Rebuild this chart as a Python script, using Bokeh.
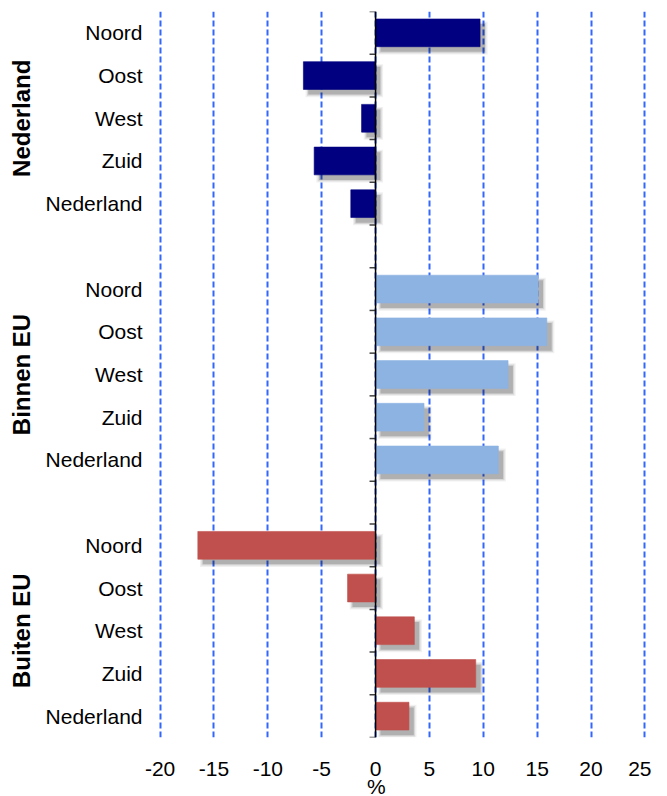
from bokeh.plotting import figure
from bokeh.models import (FactorRange, Range1d, FixedTicker, ColumnDataSource,
                          Span)
from bokeh.transform import dodge
from bokeh.embed import file_html
from bokeh.resources import INLINE

# ---------------- data ----------------
groups = ["Nederland", "Binnen EU", "Buiten EU"]
regions = ["Noord", "Oost", "West", "Zuid", "Nederland"]
nederland_values = [9.7, -6.7, -1.3, -5.7, -2.3]
binnen_eu_values = [15.1, 15.9, 12.3, 4.5, 11.4]
buiten_eu_values = [-16.5, -2.6, 3.6, 9.3, 3.1]
group_values = [nederland_values, binnen_eu_values, buiten_eu_values]
group_colors = ["#000080", "#8DB3E2", "#C0504D"]
x_ticks = [-20, -15, -10, -5, 0, 5, 10, 15, 20, 25]
x_tick_labels = ["-20", "-15", "-10", "-5", "0", "5", "10", "15", "20", "25"]
x_label = "%"

FONT = "Liberation Sans"
BAR_H = 0.65
EDGE_PAD = 0.15  # keeps the outermost grid lines inside the frame

# bottom-to-top factor order so that the first group/region sits on top
factors = [(g, r) for g in reversed(groups) for r in reversed(regions)]
y_range = FactorRange(factors=factors, group_padding=1.0, factor_padding=0.0,
                      range_padding=0.0)

p = figure(width=651, height=800,
           x_range=Range1d(x_ticks[0] - EDGE_PAD, x_ticks[-1] + EDGE_PAD),
           y_range=y_range, output_backend="svg", toolbar_location=None,
           min_border_left=158, min_border_right=5, min_border_top=11,
           min_border_bottom=0)
p.outline_line_color = None
p.background_fill_color = "white"
p.border_fill_color = "white"

# ---------------- bars with soft shadow ----------------
SH_DX = 0.45   # shadow shift in x (data units)
SH_DY = 0.12   # shadow shift in y (category units)
for g, vals, col in zip(groups, group_values, group_colors):
    src = ColumnDataSource(dict(
        y=[(g, r) for r in regions],
        left=[min(v, 0) for v in vals],
        right=[max(v, 0) for v in vals],
        sl1=[min(v, 0) + SH_DX - 0.25 for v in vals],
        sr1=[max(v, 0) + SH_DX + 0.25 for v in vals],
        sl2=[min(v, 0) + SH_DX - 0.12 for v in vals],
        sr2=[max(v, 0) + SH_DX + 0.12 for v in vals],
        sl3=[min(v, 0) + SH_DX for v in vals],
        sr3=[max(v, 0) + SH_DX for v in vals],
    ))
    ysh = dodge("y", -SH_DY, range=p.y_range)
    p.hbar(y=ysh, left="sl1", right="sr1", height=BAR_H + 0.12, source=src,
           fill_color="#000000", fill_alpha=0.06, line_color=None)
    p.hbar(y=ysh, left="sl2", right="sr2", height=BAR_H + 0.06, source=src,
           fill_color="#000000", fill_alpha=0.10, line_color=None)
    p.hbar(y=ysh, left="sl3", right="sr3", height=BAR_H, source=src,
           fill_color="#000000", fill_alpha=0.18, line_color=None)
    p.hbar(y="y", left="left", right="right", height=BAR_H, source=src,
           fill_color=col, line_color=col, line_alpha=0.6, line_width=1)

# ---------------- grid ----------------
p.xgrid.ticker = FixedTicker(ticks=x_ticks)
p.xgrid.grid_line_color = "#3366FF"
p.xgrid.grid_line_width = 2
p.xgrid.grid_line_dash = "6 3"
p.ygrid.grid_line_color = None

# ---------------- zero line with slot-boundary ticks ----------------
p.add_layout(Span(location=0, dimension="height", line_color="black",
                  line_width=1.5))
p.segment(x0=0, x1=-0.56,
          y0=dodge("y", 0.5, range=p.y_range), y1=dodge("y", 0.5, range=p.y_range),
          source=ColumnDataSource(dict(y=[(g, r) for g in groups for r in regions])),
          line_color="#404040", line_width=1.5)
p.segment(x0=0, x1=-0.56,
          y0=dodge("y", -0.5, range=p.y_range), y1=dodge("y", -0.5, range=p.y_range),
          source=ColumnDataSource(dict(y=[(g, regions[-1]) for g in groups])),
          line_color="#404040", line_width=1.5)

# ---------------- x axis ----------------
xa = p.xaxis[0]
xa.ticker = FixedTicker(ticks=x_ticks)
xa.major_label_overrides = {t: s for t, s in zip(x_ticks, x_tick_labels)}
xa.axis_line_color = None
xa.major_tick_line_color = None
xa.minor_tick_line_color = None
xa.major_tick_out = 0
xa.major_tick_in = 0
xa.major_label_standoff = 24
xa.major_label_text_font = FONT
xa.major_label_text_font_size = "21px"
xa.major_label_text_color = "black"
# trailing no-break spaces move the centred "%" under the zero line
xa.axis_label = x_label + "\u00a0" * 9
xa.axis_label_text_font = FONT
xa.axis_label_text_font_size = "21px"
xa.axis_label_text_font_style = "normal"
xa.axis_label_text_color = "black"
xa.axis_label_standoff = -4

# ---------------- categorical (label) axis ----------------
ya = p.yaxis[0]
ya.axis_line_color = None
ya.major_tick_line_color = None
ya.minor_tick_line_color = None
ya.major_tick_out = 8
ya.major_tick_in = 0
ya.major_label_standoff = 8
ya.major_label_text_font = FONT
ya.major_label_text_font_size = "21px"
ya.major_label_text_color = "black"
ya.group_text_font = FONT
ya.group_text_font_size = "24px"
ya.group_text_font_style = "bold"
ya.group_text_color = "black"
ya.separator_line_color = None

open("out.html", "w").write(file_html(p, INLINE))
